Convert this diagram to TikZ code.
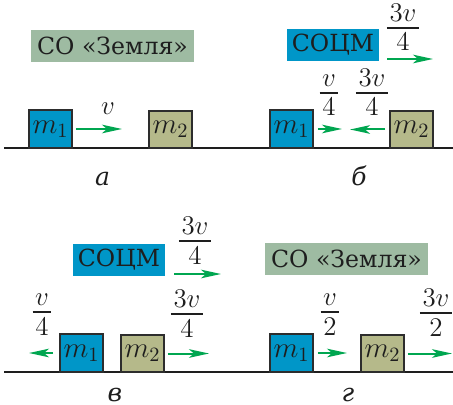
\RequirePackage{fix-cm}
\documentclass[tikz,border=0pt]{standalone}
\usepackage[no-math]{fontspec}
\setmainfont{DejaVu Serif}
\usetikzlibrary{arrows.meta}
\definecolor{mblue}{RGB}{0,150,200}
\definecolor{molive}{RGB}{181,185,138}
\definecolor{earth}{RGB}{158,187,162}
\definecolor{agreen}{RGB}{0,166,80}
\definecolor{bord}{RGB}{45,45,45}
\definecolor{ink}{RGB}{30,30,30}
% compact fraction: baseline of the box = baseline of the denominator
\newcommand\vfr[2]{\vbox{\offinterlineskip\halign{\hfil\kern1.3pt##\kern1.3pt\hfil\cr$#1$\cr\noalign{\kern3pt\hrule height0.6pt\kern2.5pt}$#2$\cr}}}
\begin{document}
\begin{tikzpicture}[x=0.5pt,y=-0.5pt,
  every node/.style={text=ink},
  ground/.style={draw=ink, line width=0.7pt},
  mfont/.style={font=\fontsize{14.5}{16}\selectfont},
  ffont/.style={font=\fontsize{13.5}{15}\selectfont},
  m1box/.style={draw=bord, line width=0.8pt, inner sep=0pt, minimum width=21.5pt, minimum height=19pt, fill=mblue, mfont},
  m2box/.style={draw=bord, line width=0.8pt, inner sep=0pt, minimum width=21.5pt, minimum height=18.5pt, fill=molive, mfont},
  earthlab/.style={fill=earth, inner sep=0pt, minimum width=81.5pt, minimum height=16pt, font=\fontsize{11.8}{14}\selectfont},
  ciclab/.style={fill=mblue, inner sep=0pt, minimum width=46pt, minimum height=16pt, font=\fontsize{11.8}{14}\selectfont},
  frac/.style={anchor=base, inner sep=0pt, ffont},
  plab/.style={anchor=base, inner sep=0pt, font=\fontsize{12.5}{15}\selectfont\itshape},
  arr/.style={draw=agreen, line width=1pt, -{Stealth[length=10pt,width=4.3pt,inset=2.5pt]}}
]
\useasboundingbox (0,0) rectangle (453,405);
% ground lines
\coordinate (g1l) at (4,148); \coordinate (g1r) at (453,148);
\coordinate (g2l) at (4,372); \coordinate (g2r) at (453,372);
\draw[ground] (g1l) -- (g1r);
\draw[ground] (g2l) -- (g2r);

% panel a
\node[earthlab] (ta) at (112.5,46) {СО «Земля»};
\node[m1box] (a1) at (50.5,129) {$m_1$};
\node[m2box] (a2) at (170.5,129.5) {$m_2$};
\coordinate (aE) at (122,129);
\draw[arr] ([xshift=1.5pt]a1.east) -- (aE);
\node[frac] (av) at (108,115) {$v$};
\node[plab] (la) at (102.5,185) {а};

% panel b
\node[ciclab] (tb) at (333,45) {СОЦМ};
\coordinate (bs) at (387,59); \coordinate (be) at (433,59);
\draw[arr] (bs) -- (be);
\node[frac] (bf0) at (403,51) {\vfr{3v}{4}};
\node[m1box] (b1) at (291.5,129) {$m_1$};
\node[m2box] (b2) at (411.5,129.5) {$m_2$};
\coordinate (b1e) at (342,129);
\draw[arr] ([xshift=2pt]b1.east) -- (b1e);
\coordinate (b2e) at (350,129.5);
\draw[arr] ([xshift=-2pt]b2.west) -- (b2e);
\node[frac] (bf1) at (329,116) {\vfr{v}{4}};
\node[frac] (bf2) at (372,116) {\vfr{3v}{4}};
\node[plab] (lb) at (359,185) {б};

% panel v
\node[ciclab] (tc) at (119,259.5) {СОЦМ};
\coordinate (cs) at (174,274); \coordinate (ce) at (221,274);
\draw[arr] (cs) -- (ce);
\node[frac] (cf0) at (195,264) {\vfr{3v}{4}};
\node[m1box] (c1) at (81.5,353) {$m_1$};
\node[m2box] (c2) at (142.5,353.5) {$m_2$};
\coordinate (c1e) at (29,353);
\draw[arr] ([xshift=-3pt]c1.west) -- (c1e);
\coordinate (c2e) at (209,353.5);
\draw[arr] ([xshift=1.5pt]c2.east) -- (c2e);
\node[frac] (cf1) at (42,335) {\vfr{v}{4}};
\node[frac] (cf2) at (187,337) {\vfr{3v}{4}};
\node[plab] (lc) at (115,401) {в};

% panel g
\node[earthlab] (td) at (346.5,259) {СО «Земля»};
\node[m1box] (d1) at (291.5,353) {$m_1$};
\node[m2box] (d2) at (382.5,353.5) {$m_2$};
\coordinate (d1e) at (347,353);
\draw[arr] ([xshift=2pt]d1.east) -- (d1e);
\coordinate (d2e) at (452,353.5);
\draw[arr] ([xshift=1.5pt]d2.east) -- (d2e);
\node[frac] (df1) at (330,335) {\vfr{v}{2}};
\node[frac] (df2) at (436,336) {\vfr{3v}{2}};
\node[plab] (ld) at (348,401) {г};
\end{tikzpicture}
\end{document}
